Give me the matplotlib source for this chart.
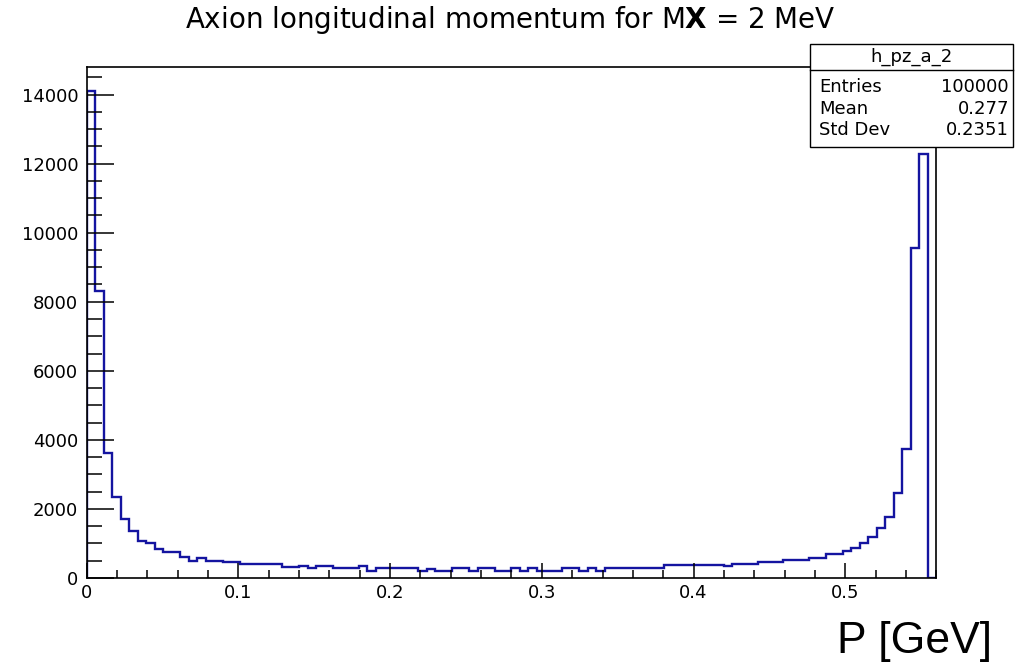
import numpy as np
import matplotlib
matplotlib.use("Agg")
import matplotlib.pyplot as plt
from matplotlib.patches import Rectangle
from matplotlib.lines import Line2D
from matplotlib.ticker import MultipleLocator

plt.rcParams['font.family'] = ['DejaVu Sans']
plt.rcParams['mathtext.fontset'] = 'dejavusans'

# ---------------- data ----------------
x_min, x_max, n_bins = 0.0, 0.56, 100
counts = [
    14100, 8320, 3610, 2350, 1705, 1370, 1080, 1023, 845, 750,
    745, 620, 502, 565, 502, 502, 453, 453, 396, 396,
    396, 396, 396, 328, 328, 347, 280, 357, 357, 289,
    289, 289, 357, 212, 289, 289, 289, 289, 289, 212,
    270, 212, 212, 289, 289, 212, 289, 289, 212, 212,
    285, 212, 289, 212, 212, 212, 289, 289, 212, 289,
    212, 280, 280, 280, 280, 280, 280, 280, 367, 367,
    367, 367, 367, 367, 367, 360, 405, 405, 405, 473,
    473, 473, 521, 521, 521, 589, 589, 685, 685, 791,
    868, 1023, 1196, 1438, 1775, 2470, 3725, 9545, 12265, 0,
]
x_ticks = [0, 0.1, 0.2, 0.3, 0.4, 0.5]
x_tick_labels = ["0", "0.1", "0.2", "0.3", "0.4", "0.5"]
y_ticks = [0, 2000, 4000, 6000, 8000, 10000, 12000, 14000]

title_text = r"Axion longitudinal momentum for M$\mathbf{X}$ = 2 MeV"
x_label = "P [GeV]"

stats_name = "h_pz_a_2"
stats_keys = ["Entries", "Mean", "Std Dev"]
stats_vals = ["100000", "0.277", "0.2351"]

# ---------------- figure ----------------
W, H = 1016, 664
fig = plt.figure(figsize=(W / 100, H / 100), dpi=100)
ax = fig.add_axes([86.7 / W, 1 - 578 / H, (936.3 - 86.7) / W, (578 - 66.7) / H])

edges = np.linspace(x_min, x_max, n_bins + 1)
ax.stairs(counts, edges, color="#1414a0", lw=1.7, baseline=0)

ax.set_xlim(x_min, x_max)
ax.set_ylim(0, 1.05 * max(counts))

ax.set_xticks(x_ticks)
ax.set_xticklabels(x_tick_labels)
ax.xaxis.set_minor_locator(MultipleLocator(0.02))
ax.set_yticks(y_ticks)
ax.set_yticklabels([str(v) for v in y_ticks])
ax.yaxis.set_minor_locator(MultipleLocator(500))

ax.tick_params(axis="x", which="major", direction="in", length=10.8, width=1.1,
               labelsize=13, pad=4, top=False)
ax.tick_params(axis="x", which="minor", direction="in", length=5.8, width=1.1, top=False)
ax.tick_params(axis="y", which="major", direction="in", length=19.4, width=1.1,
               labelsize=13, pad=6, right=False)
ax.tick_params(axis="y", which="minor", direction="in", length=10.8, width=1.1, right=False)
for s in ax.spines.values():
    s.set_linewidth(1.2)

# ---------------- title ----------------
fig.text(510 / W, 1 - 28 / H, title_text, ha="center", va="baseline", fontsize=20)

# ---------------- stats box ----------------
bx0, bx1, by_top, by_bot, by_sep = 810, 1013, 44, 147, 70
fig.patches.append(Rectangle((bx0 / W, 1 - by_bot / H), (bx1 - bx0) / W, (by_bot - by_top) / H,
                             transform=fig.transFigure, facecolor="white", edgecolor="black",
                             lw=1.0, zorder=5))
fig.lines.append(Line2D([bx0 / W, bx1 / W], [1 - by_sep / H, 1 - by_sep / H],
                        transform=fig.transFigure, color="black", lw=1.0, zorder=6))
fig.text((bx0 + bx1) / 2 / W, 1 - 57 / H, stats_name, ha="center", va="center",
         fontsize=13, zorder=7)
row_y = [87, 109, 130]
for k, v, yy in zip(stats_keys, stats_vals, row_y):
    fig.text(819 / W, 1 - yy / H, k, ha="left", va="center", fontsize=13, zorder=7)
    fig.text(1009 / W, 1 - yy / H, v, ha="right", va="center", fontsize=13, zorder=7)

# ---------------- x label ----------------
fig.text(992 / W, 1 - 653 / H, x_label, ha="right", va="baseline", fontsize=32,
         family=["Liberation Sans", "DejaVu Sans"])

fig.savefig("out.png", dpi=100)
